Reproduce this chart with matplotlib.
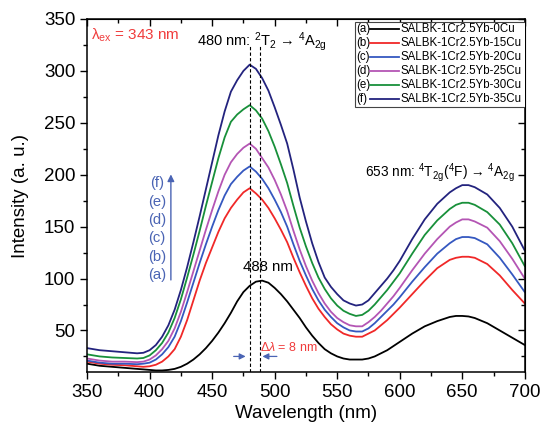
import matplotlib
matplotlib.use('Agg')
import matplotlib.pyplot as plt
from matplotlib.ticker import MultipleLocator, NullFormatter
from matplotlib.patches import Rectangle

plt.rcParams['font.family'] = ['Liberation Sans', 'DejaVu Sans']
plt.rcParams['mathtext.fontset'] = 'custom'
plt.rcParams['mathtext.rm'] = 'Liberation Sans'
plt.rcParams['mathtext.it'] = 'Liberation Sans:italic'
plt.rcParams['mathtext.bf'] = 'Liberation Sans:bold'

# wavelength (nm)
wl = [350, 360, 370, 380, 390, 395,
      400, 405, 410, 415, 420, 425, 430, 435, 440, 445, 450, 455, 460, 465, 470, 475, 480, 485, 490, 495,
      500, 505, 510, 515, 520, 525, 530, 535, 540, 545, 550, 555, 560, 565, 570, 575, 580, 585, 590, 595,
      600, 610, 620, 630, 640, 645, 650, 655, 660, 670, 680, 690, 700]

cu0 = [18, 16, 15, 14, 13, 12.5,
       12, 11.5, 11.5, 12, 13, 15, 18, 22, 27, 33, 40, 48, 57, 67, 78, 87, 93, 97, 98, 96,
       91, 85, 78, 70, 62, 53, 45, 38, 32, 28, 25, 23, 22, 22, 22, 23, 25, 28, 31, 35,
       39, 47, 54, 59, 63, 64, 64, 63.5, 62, 57, 50, 43, 36]
cu15 = [20, 18, 17, 16.5, 15.5, 15,
        15.5, 17, 20, 25, 32, 44, 60, 79, 98, 115, 130, 145, 158, 168, 176, 183, 187, 182, 176, 168,
        158, 147, 135, 120, 106, 93, 81, 71, 63, 56, 51, 47, 45, 44, 44, 47, 50, 55, 60, 66,
        72, 85, 98, 110, 118, 120, 121, 121, 120, 114, 103, 89, 76]
cu20 = [21, 19, 18, 18, 17.5, 18,
        19, 22, 27, 34, 44, 59, 77, 96, 115, 133, 150, 166, 180, 191, 198, 204, 208, 203, 196, 187,
        176, 164, 150, 133, 117, 103, 90, 79, 70, 63, 57, 53, 50, 49, 49, 52, 57, 63, 69, 75,
        82, 97, 111, 124, 134, 138, 140, 140, 139, 133, 120, 104, 87]
cu25 = [23, 21, 20, 20, 19.5, 20,
        22, 26, 32, 40, 52, 68, 87, 107, 127, 147, 166, 184, 200, 212, 220, 226, 230, 225, 216, 207,
        195, 181, 165, 146, 128, 112, 98, 86, 76, 68, 62, 58, 55, 54, 54, 58, 63, 69, 76, 83,
        91, 108, 124, 138, 150, 154, 157, 157, 155, 149, 136, 119, 100]
cu30 = [27, 25, 24, 23.5, 23, 23.5,
        26, 31, 38, 48, 62, 80, 101, 123, 146, 170, 193, 216, 236, 251, 258, 263, 267, 262, 254, 242,
        227, 210, 192, 170, 149, 131, 115, 101, 90, 81, 74, 69, 66, 64, 65, 69, 75, 82, 89, 97,
        105, 124, 142, 156, 167, 171, 173, 173, 171, 164, 152, 134, 112]
cu35 = [33, 31, 30, 29, 28, 28.5,
        31, 36, 44, 55, 70, 89, 111, 135, 160, 186, 212, 238, 261, 280, 291, 300, 306, 302, 293, 281,
        265, 248, 230, 205, 178, 155, 134, 116, 101, 92, 85, 79, 76, 74, 75, 79, 86, 93, 100, 108,
        117, 138, 157, 172, 183, 187, 190, 190, 188, 181, 168, 150, 127]

series = [cu0, cu15, cu20, cu25, cu30, cu35]
tags = ['(a)', '(b)', '(c)', '(d)', '(e)', '(f)']
names = ['SALBK-1Cr2.5Yb-0Cu', 'SALBK-1Cr2.5Yb-15Cu', 'SALBK-1Cr2.5Yb-20Cu',
         'SALBK-1Cr2.5Yb-25Cu', 'SALBK-1Cr2.5Yb-30Cu', 'SALBK-1Cr2.5Yb-35Cu']
colores = ['black', '#f02828', '#3558c0', '#b455b4', '#18903a', '#23237e']

fig = plt.figure(figsize=(5.41, 4.25), dpi=100)
ax = fig.add_axes([0.161, 0.1247, 0.809, 0.8306])

for s, c in zip(series, colores):
    ax.plot(wl, s, color=c, lw=1.3)

ax.set_xlim(350, 700)
ax.set_ylim(10, 350)
ax.xaxis.set_major_locator(MultipleLocator(50))
ax.xaxis.set_minor_locator(MultipleLocator(25))
ax.yaxis.set_major_locator(MultipleLocator(50))
ax.yaxis.set_minor_locator(MultipleLocator(25))
ax.tick_params(which='both', direction='out', labelsize=13.5, width=1.0)
ax.tick_params(which='major', length=5)
ax.tick_params(which='minor', length=3)
for sp in ax.spines.values():
    sp.set_linewidth(1.1)

# espejo arriba / derecha con ticks hacia dentro
top = ax.secondary_xaxis('top')
top.xaxis.set_major_locator(MultipleLocator(50))
top.xaxis.set_minor_locator(MultipleLocator(25))
top.xaxis.set_major_formatter(NullFormatter())
top.tick_params(which='both', direction='in', width=1.0)
top.tick_params(which='major', length=5)
top.tick_params(which='minor', length=3)
der = ax.secondary_yaxis('right')
der.yaxis.set_major_locator(MultipleLocator(50))
der.yaxis.set_minor_locator(MultipleLocator(25))
der.yaxis.set_major_formatter(NullFormatter())
der.tick_params(which='both', direction='in', width=1.0)
der.tick_params(which='major', length=5)
der.tick_params(which='minor', length=3)

ax.set_xlabel('Wavelength (nm)', fontsize=13.5, labelpad=3)
ax.set_ylabel('Intensity (a. u.)', fontsize=13.5, labelpad=11)

# lineas de los picos
ax.plot([480, 480], [10, 324], color='black', lw=0.8, ls=(0, (3, 2)))
ax.plot([488, 488], [10, 324], color='black', lw=0.8, ls=(0, (3, 2)))

ax.text(353, 334.5, 'λ$_{\\mathrm{ex}}$ = 343 nm', color='#f03c3c', fontsize=11, va='center', ha='left')
ax.text(438, 328, '480 nm: $^{2}$T$_{2}$ → $^{4}$A$_{\\mathrm{2g}}$', fontsize=10.5, ha='left', va='center')
ax.text(572, 202.5, '653 nm: $^{4}$T$_{\\mathrm{2g}}$($^{4}$F) → $^{4}$A$_{\\mathrm{2g}}$', fontsize=9.8,
        ha='left', va='center')
ax.text(474.7, 111, '488 nm', fontsize=10.8, ha='left', va='center')

azul = '#4a64b4'
ax.annotate('', xy=(479, 25), xytext=(465, 25),
            arrowprops=dict(arrowstyle='-|>', color=azul, lw=0.9, mutation_scale=9))
ax.annotate('', xy=(488, 25), xytext=(504, 25),
            arrowprops=dict(arrowstyle='-|>', color=azul, lw=0.9, mutation_scale=9))
ax.text(488.5, 33.7, '$\\Delta\\lambda$ = 8 nm', color='#f03c3c', fontsize=9, ha='left', va='center')

# flecha de concentracion
ax.annotate('', xy=(417, 203), xytext=(417, 96),
            arrowprops=dict(arrowstyle='-|>', color=azul, lw=1.0, mutation_scale=10))
for i, t in enumerate(tags):
    ax.text(406, 103 + i * 17.8, t, color=azul, fontsize=10.6, ha='center', va='center')

# leyenda manual
ax.add_patch(Rectangle((0.612, 0.751), 0.390, 0.2405, transform=ax.transAxes,
                       facecolor='white', edgecolor='#444444', lw=0.8, zorder=5))
for i in range(6):
    yy = 0.972 - i * 0.0396
    ax.text(0.614, yy, tags[i], transform=ax.transAxes, fontsize=8.3, ha='left', va='center', zorder=6)
    ax.plot([0.646, 0.712], [yy, yy], transform=ax.transAxes, color=colores[i], lw=1.3, zorder=6)
    ax.text(0.716, yy, names[i], transform=ax.transAxes, fontsize=8.3, ha='left', va='center', zorder=6)

plt.savefig('out.png', dpi=100)
